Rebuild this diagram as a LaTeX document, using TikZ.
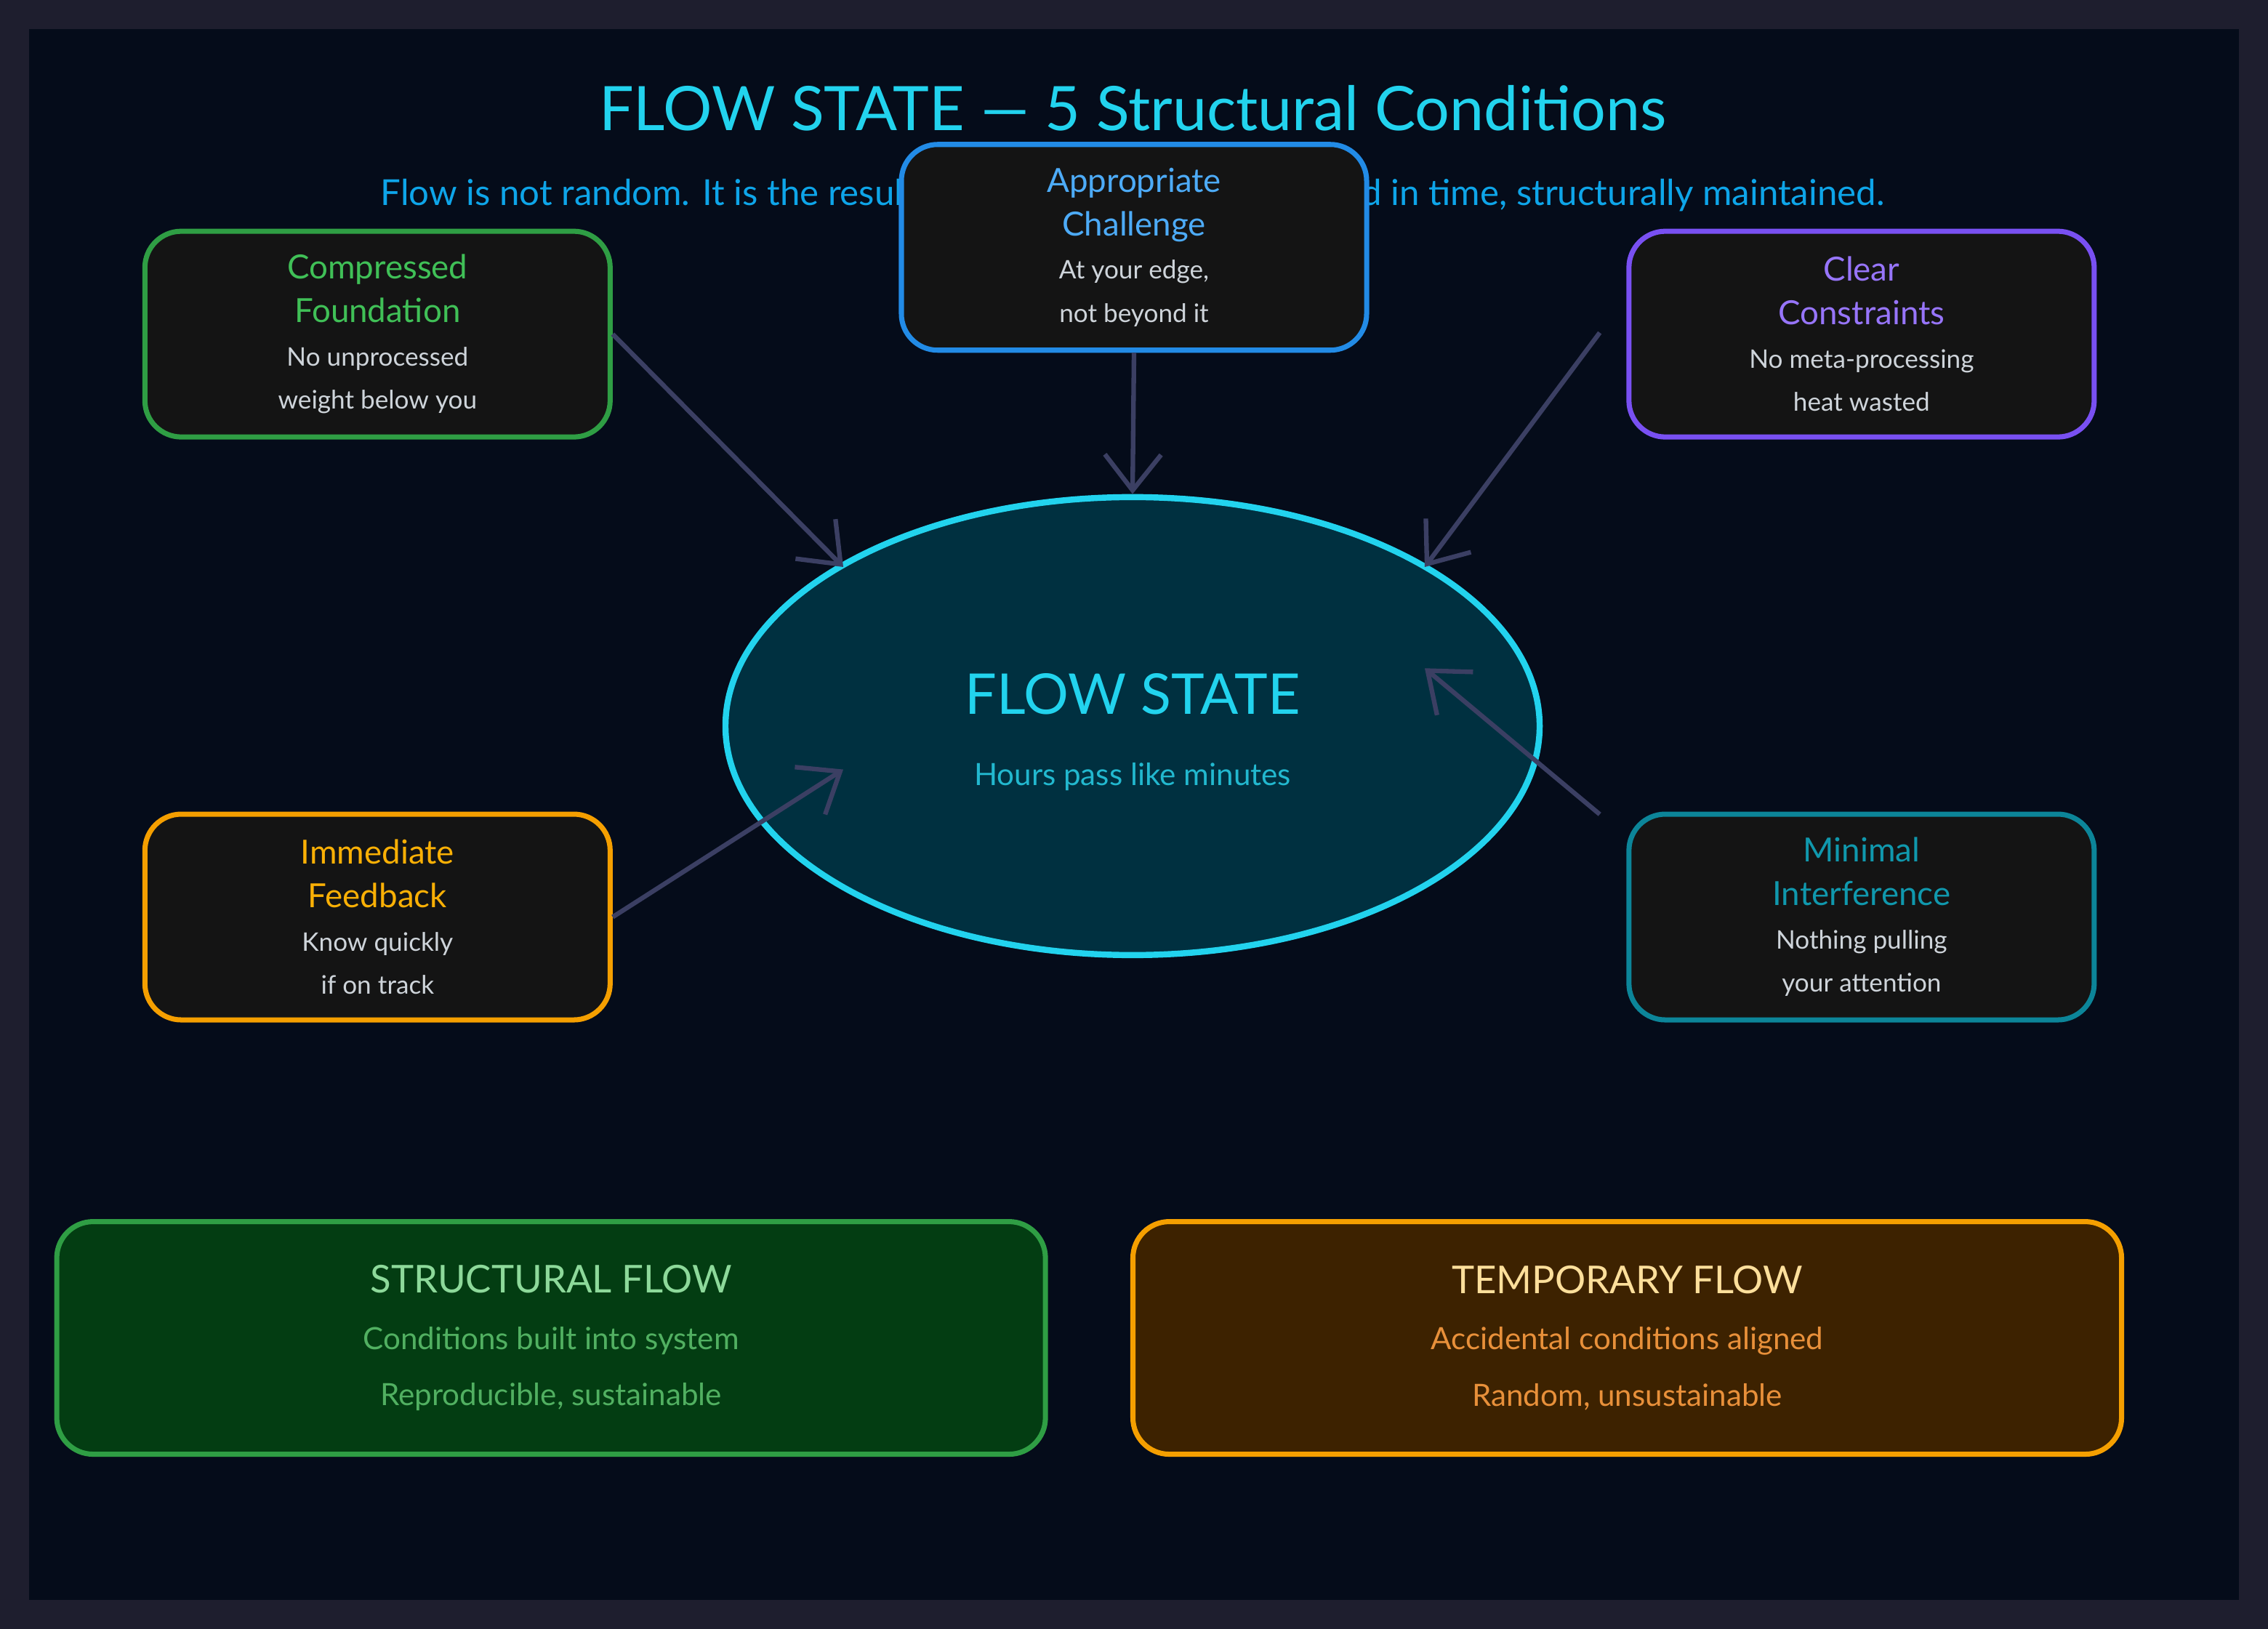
\documentclass[tikz,border=0pt]{standalone}
\usepackage{fontspec}
\setmainfont{Lato}
\usetikzlibrary{positioning,shapes.geometric,arrows.meta}
\definecolor{outerbg}{HTML}{1E1E2E}
\definecolor{panel}{HTML}{050C1A}
\definecolor{boxfill}{HTML}{141414}
\definecolor{cyanT}{HTML}{22D3EE}
\definecolor{subT}{HTML}{0EA5E9}
\definecolor{bodyT}{HTML}{CED4DA}
\definecolor{arrowC}{HTML}{3B3F63}
\definecolor{greenB}{HTML}{2F9E44}\definecolor{greenT}{HTML}{40C057}
\definecolor{blueB}{HTML}{228BE6}\definecolor{blueT}{HTML}{4DABF7}
\definecolor{violetB}{HTML}{7950F2}\definecolor{violetT}{HTML}{9775FA}
\definecolor{orangeB}{HTML}{F59F00}\definecolor{orangeT}{HTML}{FAB005}
\definecolor{tealB}{HTML}{0C8599}\definecolor{tealT}{HTML}{1098AD}
\definecolor{flowfill}{HTML}{003040}
\definecolor{flowsubT}{HTML}{22B8CF}
\definecolor{structfill}{HTML}{033D12}\definecolor{structT}{HTML}{51B061}
\definecolor{tempfill}{HTML}{3D2200}\definecolor{tempT}{HTML}{E8903A}
\tikzset{
  cond/.style={draw=#1, line width=2pt, fill=boxfill, rounded corners=0.5cm,
    minimum width=6.4cm, minimum height=2.83cm, align=center, text=bodyT,
    font=\fontsize{10}{17}\selectfont},
  summary/.style={draw=#1, line width=2pt, rounded corners=0.5cm,
    minimum width=13.6cm, minimum height=3.2cm, align=center,
    font=\fontsize{12}{22}\selectfont},
  feed/.style={draw=arrowC, line width=1.8pt, -{Straight Barb[length=14pt,width=22pt]}},
}
\newcommand{\ctitle}{\fontsize{13}{15}\selectfont}
\begin{document}
\begin{tikzpicture}[x=0.0199cm, y=-0.0199cm]
  \fill[outerbg] (0,0) rectangle (1568,1126);
  \fill[panel] (20,20) rectangle (1548,1106);

  % heading
  \node[text=cyanT, font=\fontsize{24}{28}\selectfont] (title) at (783,75) {FLOW STATE — 5 Structural Conditions};
  \node[text=subT, font=\fontsize{14}{16}\selectfont] (subtitle) at (783,135)
    {Flow is not random. It is the result of conditions that are aligned in time, structurally maintained.};

  % central state
  \node[ellipse, draw=cyanT, line width=2.4pt, fill=flowfill,
    minimum width=11.2cm, minimum height=6.3cm] (flow) at (783,502) {};
  \node[text=cyanT, font=\fontsize{22}{26}\selectfont] (flowlbl) at (783,480) {FLOW STATE};
  \node[text=flowsubT, font=\fontsize{12}{14}\selectfont] (flowsub) at (783,537) {Hours pass like minutes};

  % conditions
  \node[cond=greenB] (comp) at (261,231) {{\ctitle\color{greenT}Compressed}\\{\ctitle\color{greenT}Foundation}\\No unprocessed\\weight below you};
  \node[cond=blueB] (chal) at (784,171) {{\ctitle\color{blueT}Appropriate}\\{\ctitle\color{blueT}Challenge}\\At your edge,\\not beyond it};
  \node[cond=violetB] (clear) at (1287,231) {{\ctitle\color{violetT}Clear}\\{\ctitle\color{violetT}Constraints}\\No meta-processing\\heat wasted};
  \node[cond=orangeB] (immed) at (261,634) {{\ctitle\color{orangeT}Immediate}\\{\ctitle\color{orangeT}Feedback}\\Know quickly\\if on track};
  \node[cond=tealB] (minim) at (1287,634) {{\ctitle\color{tealT}Minimal}\\{\ctitle\color{tealT}Interference}\\Nothing pulling\\your attention};

  % connectors
  \coordinate (compin) at (583,392);
  \coordinate (clearout) at (1106,230);
  \coordinate (clearin) at (985,392);
  \coordinate (immin) at (583,532);
  \coordinate (minout) at (1106,563);
  \coordinate (minin) at (985,462);
  \draw[feed] (comp.east) -- (compin);
  \draw[feed] (chal.south) -- (flow.north);
  \draw[feed] (clearout) -- (clearin);
  \draw[feed] (immed.east) -- (immin);
  \draw[feed] (minout) -- (minin);

  % summary boxes
  \node[summary=greenB, fill=structfill, text=structT] (struct) at (381,925)
    {{\fontsize{15}{18}\selectfont\color{greenT!60!white}STRUCTURAL FLOW}\\Conditions built into system\\Reproducible, sustainable};
  \node[summary=orangeB, fill=tempfill, text=tempT] (temp) at (1125,925)
    {{\fontsize{15}{18}\selectfont\color{orangeT!40!white}TEMPORARY FLOW}\\Accidental conditions aligned\\Random, unsustainable};
\end{tikzpicture}
\end{document}
